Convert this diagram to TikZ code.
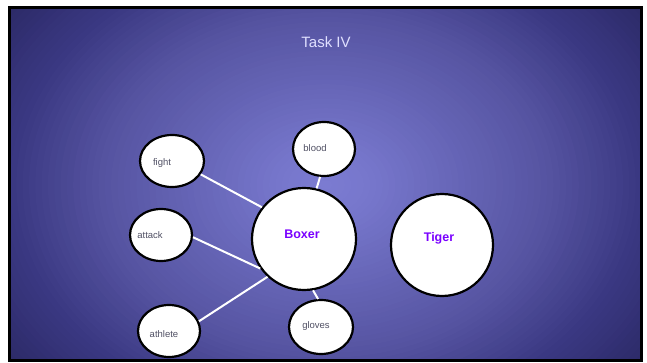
\documentclass[tikz,border=0pt]{standalone}
\usepackage{fontspec}
\setmainfont{Liberation Sans}
\usetikzlibrary{shapes.geometric}
\definecolor{bgA}{RGB}{124,124,210}
\definecolor{bgB}{RGB}{118,118,203}
\definecolor{bgC}{RGB}{85,83,160}
\definecolor{bgD}{RGB}{58,56,130}
\definecolor{bgE}{RGB}{45,43,105}
\definecolor{bgF}{RGB}{40,38,95}
\definecolor{keyc}{RGB}{122,0,255}
\definecolor{lblc}{RGB}{80,80,100}
\begin{document}
\begin{tikzpicture}[x=1pt,y=-1pt,
  bub/.style={draw=black,fill=white,line width=2.2pt,ellipse,inner sep=0pt},
  small/.style={text=lblc,font=\fontsize{9.5}{11}\selectfont},
  big/.style={text=keyc,font=\bfseries\fontsize{12.5}{15}\selectfont},
  link/.style={draw=white,line width=2pt}]
\useasboundingbox (0,0) rectangle (647,363);
\fill[white] (0,0) rectangle (647,363);
\begin{scope}
\clip (9.5,7.5) rectangle (641.5,360.5);
\fill[bgF] (9.5,7.5) rectangle (641.5,360.5);
\foreach \d in {75,74,...,63}{\pgfmathtruncatemacro\p{(\d-62)/13*100}
  \fill[bgF!\p!bgE] (326,185) ellipse [x radius=\d*6.32pt, y radius=\d*4.8pt];}
\foreach \d in {62,61,...,51}{\pgfmathtruncatemacro\p{(\d-50)/12*100}
  \fill[bgE!\p!bgD] (326,185) ellipse [x radius=\d*6.32pt, y radius=\d*4.8pt];}
\foreach \d in {50,49,...,37}{\pgfmathtruncatemacro\p{(\d-36)/14*100}
  \fill[bgD!\p!bgC] (326,185) ellipse [x radius=\d*6.32pt, y radius=\d*4.8pt];}
\foreach \d in {36,35,...,9}{\pgfmathtruncatemacro\p{(\d-8)/28*100}
  \fill[bgC!\p!bgB] (326,185) ellipse [x radius=\d*6.32pt, y radius=\d*4.8pt];}
\foreach \d in {8,7,...,1}{\pgfmathtruncatemacro\p{\d/8*100}
  \fill[bgB!\p!bgA] (326,185) ellipse [x radius=\d*6.32pt, y radius=\d*4.8pt];}
\end{scope}
\draw[black,line width=3pt] (9.5,7.5) rectangle (641.5,360.5);
\node[text=white!88!blue,font=\fontsize{15}{18}\selectfont] (title) at (326,42) {Task IV};
% bubbles
\node[bub,minimum width=64pt,minimum height=52pt] (fight) at (172,161) {};
\node[bub,minimum width=62pt,minimum height=54pt] (blood) at (324,149) {};
\node[bub,minimum width=62pt,minimum height=52pt] (attack) at (161,235) {};
\node[bub,minimum width=104pt,minimum height=102pt] (boxer) at (304,239) {};
\node[bub,minimum width=102pt,minimum height=102pt] (tiger) at (442,245) {};
\node[bub,minimum width=62pt,minimum height=52pt] (athlete) at (169,331) {};
\node[bub,minimum width=64pt,minimum height=54pt] (gloves) at (321,327) {};
% labels
\node[small] (lfight) at (162,163) {fight};
\node[small] (lblood) at (315,148) {blood};
\node[small] (lattack) at (150,235) {attack};
\node[small] (lathlete) at (164,334) {athlete};
\node[small] (lgloves) at (316,326) {gloves};
\node[big] (lboxer) at (302,234) {Boxer};
\node[big] (ltiger) at (439,238) {Tiger};
% connectors
\draw[link] (fight.-25) -- (boxer.143);
\draw[link] (attack.-4) -- (boxer.214);
\draw[link] (athlete.18) -- (boxer.226);
\draw[link] (blood.-98) -- (boxer.76);
\draw[link] (gloves.96) -- (boxer.-80);
\end{tikzpicture}
\end{document}
